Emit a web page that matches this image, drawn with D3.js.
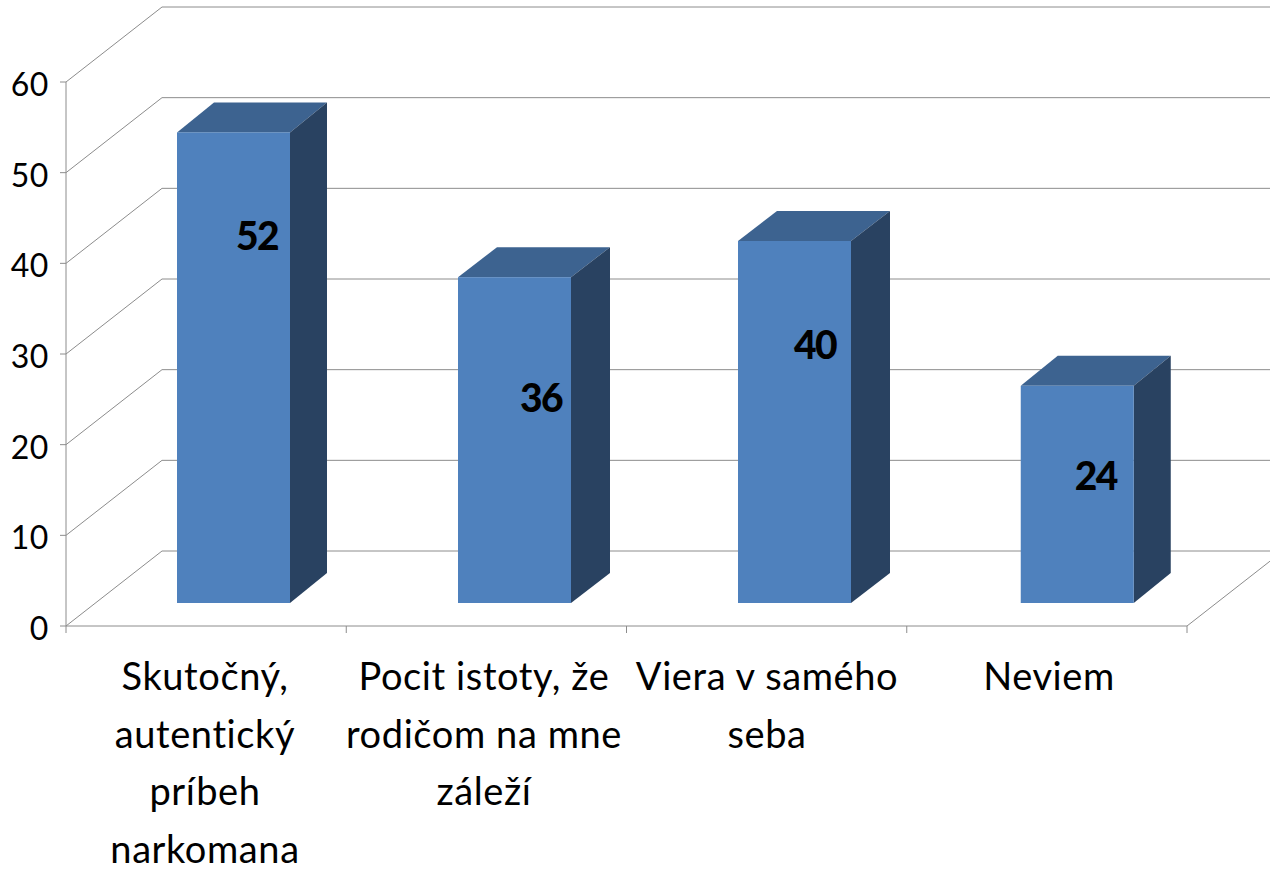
<!DOCTYPE html>
<html><head><meta charset="utf-8"><script src="https://cdn.jsdelivr.net/npm/d3@7"></script>
<style>html,body{margin:0;background:#fff}svg{display:block}text{font-family:Lato,"Open Sans",sans-serif}</style></head><body>
<svg id="c" width="1270" height="870"></svg>
<script>
const categories=[["Skutočný,","autentický","príbeh","narkomana"],["Pocit istoty, že","rodičom na mne","záleží"],["Viera v samého","seba"],["Neviem"]];
const values=[52,36,40,24];
const ticks=[0,10,20,30,40,50,60];
const svg=d3.select("#c");
const y=d3.scaleLinear().domain([0,60]).range([626,82]);
const x=d3.scaleBand().domain(d3.range(4)).range([66,1187]);
const dx=96,dy=-75;
const grey="#8c8c8c";
ticks.forEach(t=>{
 svg.append("line").attr("x1",66).attr("y1",y(t)).attr("x2",66+dx).attr("y2",y(t)+dy).attr("stroke",grey);
 svg.append("line").attr("x1",66+dx).attr("y1",y(t)+dy).attr("x2",1270).attr("y2",y(t)+dy).attr("stroke",grey);
 svg.append("line").attr("x1",60).attr("y1",y(t)).attr("x2",66).attr("y2",y(t)).attr("stroke",grey);
 svg.append("text").attr("x",49).attr("y",y(t)+14).attr("text-anchor","end").attr("font-size",32).attr("letter-spacing",0.6).attr("fill","#000").text(t);
});
svg.append("line").attr("x1",66).attr("y1",y(0)).attr("x2",66).attr("y2",y(60)).attr("stroke",grey);
svg.append("line").attr("x1",66).attr("y1",y(0)).attr("x2",1187).attr("y2",y(0)).attr("stroke",grey);
svg.append("line").attr("x1",1187).attr("y1",y(0)).attr("x2",1187+dx).attr("y2",y(0)+dy).attr("stroke",grey);
d3.range(5).forEach(i=>{const px=i<4?x(i):1187;svg.append("line").attr("x1",px).attr("y1",y(0)).attr("x2",px).attr("y2",y(0)+7).attr("stroke",grey)});
const bw=113,ox=[111,111.75,111.5,114],ddxs=[37,39,39,37],ddy=-30,base=603;
const h=d3.scaleLinear().domain([0,60]).range([0,543]);
const labelDx=[80,83,77,75],labelDy=[104,121,104,90];
values.forEach((v,i)=>{
 const l=x(i)+ox[i],r=l+bw,t=base-h(v),ddx=ddxs[i];
 const g=svg.append("g");
 g.append("polygon").attr("points",[[l,t],[r,t],[r+ddx,t+ddy],[l+ddx,t+ddy]].join(" ")).attr("fill","#3d6390");
 g.append("polygon").attr("points",[[r,t],[r+ddx,t+ddy],[r+ddx,base+ddy],[r,base]].join(" ")).attr("fill","#294261");
 g.append("rect").attr("x",l).attr("y",t).attr("width",bw).attr("height",base-t).attr("fill","#4f81bd");
 g.append("text").attr("x",l+labelDx[i]).attr("y",t+labelDy[i]+14).attr("text-anchor","middle").attr("font-size",39).attr("font-weight",900).attr("letter-spacing",-1.5).attr("fill","#000").text(v);
});
const cx=[205,484,767,1049];
categories.forEach((ls,i)=>ls.forEach((s,j)=>{
 svg.append("text").attr("x",cx[i]).attr("y",690+j*57.5).attr("text-anchor","middle").attr("font-size",38).attr("letter-spacing",0.6).attr("fill","#000").text(s);
}));
</script></body></html>
